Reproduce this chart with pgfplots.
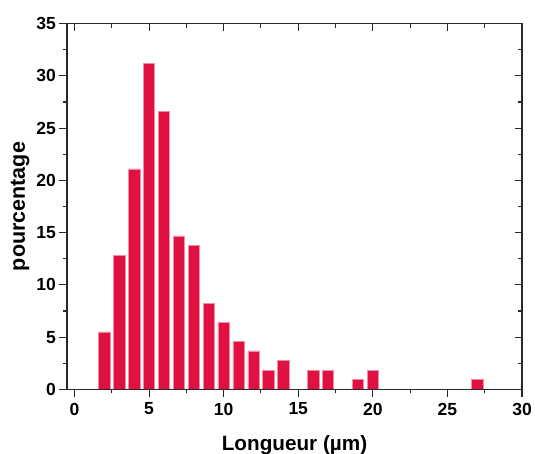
\documentclass[border=0pt]{standalone}
\usepackage{fontspec}
\setmainfont{Liberation Sans}
\usepackage{pgfplots}
\pgfplotsset{compat=1.18}
\definecolor{barred}{RGB}{224,16,64}
\definecolor{baredge}{RGB}{242,140,165}
\definecolor{axgray}{RGB}{40,40,40}
\pgfplotstableread{
x y
2 5.50
3 12.84
4 21.10
5 31.19
6 26.61
7 14.68
8 13.76
9 8.26
10 6.42
11 4.59
12 3.67
13 1.83
14 2.75
16 1.83
17 1.83
19 0.92
20 1.83
27 0.92
}\datatable
\begin{document}
\begin{tikzpicture}
\pgfplotsset{common/.style={
  width=455pt, height=365.6pt, scale only axis,
  xmin=-0.5, xmax=30, ymin=0, ymax=35,
  xtick={0,5,...,30}, ytick={0,5,...,35},
  minor x tick num=1, minor y tick num=1,
  major tick length=7.5pt, minor tick length=4pt,
  axis line style={line width=1.1pt, axgray},
  every tick/.style={line width=1.1pt, axgray},
  at={(0,0)}, anchor=south west,
  /pgf/number format/assume math mode=true,
  ticklabel style={font=\fontsize{17.5}{19}\selectfont\bfseries},
}}
\begin{axis}[common,
  tick align=outside, xtick pos=left, ytick pos=left,
  xticklabel style={yshift=-2.5pt},
  every axis x label/.style={at={(rel axis cs:0.5,0)}, yshift=-61.7pt, anchor=base, font=\fontsize{20.7}{23}\selectfont\bfseries},
  every axis y label/.style={at={(rel axis cs:0,0.5)}, xshift=-42pt, rotate=90, anchor=base, font=\fontsize{21.5}{24}\selectfont\bfseries},
  xlabel={Longueur (µm)}, ylabel={pourcentage},
  ybar, bar width=0.76,
]
\addplot[fill=barred, draw=baredge, line width=0.5pt] table[x=x,y=y] {\datatable};
\coordinate (sw) at (rel axis cs:0,0);
\coordinate (ne) at (rel axis cs:1,1);
\end{axis}
\begin{axis}[common,
  tick align=inside, xtick pos=right, ytick pos=right,
  xticklabels={}, yticklabels={},
]
\end{axis}
\pgfresetboundingbox
\path[use as bounding box] ([shift={(-67pt,-64.7pt)}]sw) rectangle ([shift={(13pt,23.7pt)}]ne);
\end{tikzpicture}
\end{document}
